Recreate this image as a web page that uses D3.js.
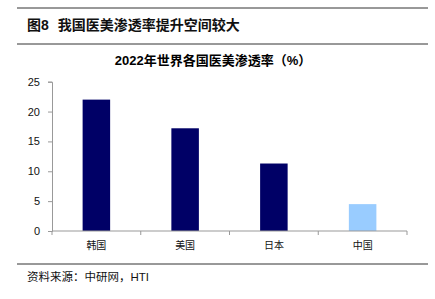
<!doctype html>
<html>
<head>
<meta charset="utf-8">
<style>
  body { margin: 0; background: #fff; }
  svg { display: block; }
  text { font-family: "Liberation Sans", Arial, "Noto Sans CJK SC", sans-serif; }
  .cjk { font-family: "Noto Sans CJK SC", sans-serif; }
</style>
<script src="https://d3js.org/d3.v7.min.js"></script>
</head>
<body>
<div id="vis"></div>
<script>
var categories = ['韩国', '美国', '日本', '中国'];
var values = [22, 17.2, 11.3, 4.5];
var barColors = ['#000066', '#000066', '#000066', '#99ccff'];
var yTicks = [0, 5, 10, 15, 20, 25];

var width = 435, height = 299;
var svg = d3.select('#vis').append('svg')
  .attr('width', width).attr('height', height);

// header
svg.append('line').attr('x1', 17).attr('x2', 428).attr('y1', 8).attr('y2', 8)
  .attr('stroke', '#333').attr('stroke-width', 1);
svg.append('line').attr('x1', 17).attr('x2', 428).attr('y1', 44).attr('y2', 44)
  .attr('stroke', '#333').attr('stroke-width', 1);
var head = svg.append('text').attr('x', 27).attr('y', 30)
  .attr('font-size', 14).attr('font-weight', 'bold').attr('fill', '#111');
head.append('tspan').text('图8');
head.append('tspan').attr('class', 'cjk').attr('dx', 9).text('我国医美渗透率提升空间较大');

svg.append('text').attr('x', 213).attr('y', 65).attr('text-anchor', 'middle')
  .attr('font-size', 13).attr('font-weight', 'bold').attr('fill', '#000')
  .text('2022年世界各国医美渗透率（%）');

var x = d3.scaleBand().domain(categories).range([52, 407]).paddingInner(0.69).paddingOuter(0.345);
var y = d3.scaleLinear().domain([0, 25]).range([231, 81.7]);

svg.selectAll('rect.bar').data(values).enter().append('rect')
  .attr('class', 'bar')
  .attr('x', function(d, i){ return x(categories[i]); })
  .attr('width', x.bandwidth())
  .attr('y', function(d){ return y(d); })
  .attr('height', function(d){ return y(0) - y(d); })
  .attr('fill', function(d, i){ return barColors[i]; });

// y axis
var yAxis = svg.append('g').attr('transform', 'translate(52,0)')
  .call(d3.axisLeft(y).tickValues(yTicks).tickSize(4).tickPadding(8));
yAxis.select('.domain').attr('stroke', '#999');
yAxis.selectAll('.tick line').attr('stroke', '#999');
yAxis.selectAll('.tick text').attr('font-size', 11).attr('fill', '#111')
  .attr('font-family', '"Liberation Sans", Arial, sans-serif');

// x axis with ticks at band boundaries
var xb = d3.scaleLinear().domain([0, 4]).range([52, 407]);
var xAxis = svg.append('g').attr('transform', 'translate(0,231)');
xAxis.append('line').attr('x1', 52).attr('x2', 407).attr('stroke', '#999');
xAxis.selectAll('line.tk').data(d3.range(5)).enter().append('line')
  .attr('class', 'tk')
  .attr('x1', function(d){ return xb(d); }).attr('x2', function(d){ return xb(d); })
  .attr('y1', 0).attr('y2', 4).attr('stroke', '#999');
xAxis.selectAll('text').data(categories).enter().append('text')
  .attr('class', 'cjk')
  .attr('x', function(d){ return x(d) + x.bandwidth() / 2; })
  .attr('y', 18).attr('text-anchor', 'middle')
  .attr('font-size', 10).attr('fill', '#111')
  .text(function(d){ return d; });

// footer
svg.append('line').attr('x1', 17).attr('x2', 428).attr('y1', 264).attr('y2', 264)
  .attr('stroke', '#333').attr('stroke-width', 1);
var src = svg.append('text').attr('x', 27).attr('y', 281).attr('font-size', 11.5).attr('fill', '#111');
src.append('tspan').attr('class', 'cjk').text('资料来源：中研网，');
src.append('tspan').text('HTI');
</script>
</body>
</html>
